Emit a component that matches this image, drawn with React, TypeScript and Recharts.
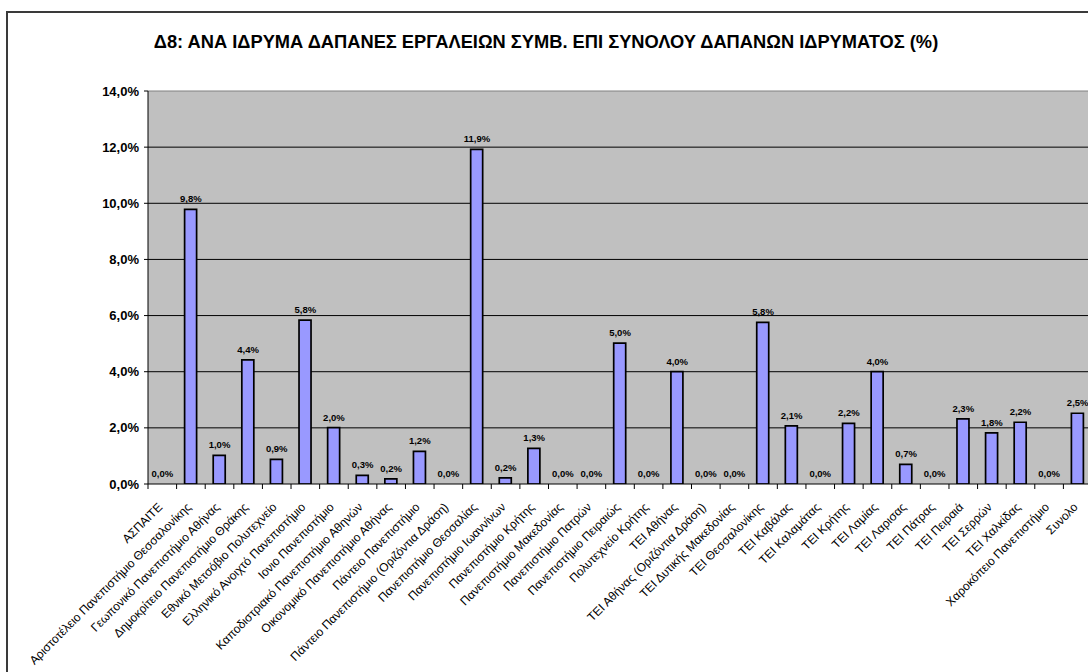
import React from 'react';
import { ComposedChart, Bar, Line, XAxis, YAxis, CartesianGrid, LabelList, ReferenceLine } from 'recharts';

const categories: string[] = [
  'ΑΣΠΑΙΤΕ',
  'Αριστοτέλειο Πανεπιστήμιο Θεσσαλονίκης',
  'Γεωπονικό Πανεπιστήμιο Αθήνας',
  'Δημοκρίτειο Πανεπιστήμιο Θράκης',
  'Εθνικό Μετσόβιο Πολυτεχνείο',
  'Ελληνικό Ανοιχτό Πανεπιστήμιο',
  'Ιονιο Πανεπιστήμιο',
  'Καποδιστριακό Πανεπιστήμιο Αθηνών',
  'Οικονομικό Πανεπιστήμιο Αθήνας',
  'Πάντειο Πανεπιστήμιο',
  'Πάντειο Πανεπιστήμιο (Οριζόντια Δράση)',
  'Πανεπιστήμιο Θεσσαλίας',
  'Πανεπιστήμιο Ιωαννίνων',
  'Πανεπιστήμιο Κρήτης',
  'Πανεπιστήμιο Μακεδονίας',
  'Πανεπιστήμιο Πατρών',
  'Πανεπιστήμιο Πειραιώς',
  'Πολυτεχνείο Κρήτης',
  'ΤΕΙ Αθήνας',
  'ΤΕΙ Αθήνας (Οριζόντια Δράση)',
  'ΤΕΙ Δυτικής Μακεδονίας',
  'ΤΕΙ Θεσσαλονίκης',
  'ΤΕΙ Καβάλας',
  'ΤΕΙ Καλαμάτας',
  'ΤΕΙ Κρήτης',
  'ΤΕΙ Λαμίας',
  'ΤΕΙ Λαρισας',
  'ΤΕΙ Πάτρας',
  'ΤΕΙ Πειραιά',
  'ΤΕΙ Σερρών',
  'ΤΕΙ Χαλκίδας',
  'Χαροκόπειο Πανεπιστήμιο',
  'Συνολο',
];

const values: number[] = [
  0, 9.78, 1.02, 4.42, 0.88, 5.84, 2.01, 0.31, 0.18, 1.16, 0,
  11.92, 0.22, 1.27, 0, 0, 5.02, 0, 4.0, 0, 0, 5.76,
  2.07, 0, 2.16, 4.0, 0.7, 0, 2.32, 1.82, 2.2, 0, 2.52,
];

const yTicks: number[] = [0, 2, 4, 6, 8, 10, 12, 14];
const gridValues: number[] = [2, 4, 6, 8, 10, 12];

const title = 'Δ8: ΑΝΑ ΙΔΡΥΜΑ ΔΑΠΑΝΕΣ ΕΡΓΑΛΕΙΩΝ ΣΥΜΒ. ΕΠΙ ΣΥΝΟΛΟΥ ΔΑΠΑΝΩΝ ΙΔΡΥΜΑΤΟΣ (%)';

const data = categories.map((name, i) => ({ name, value: values[i] }));

const FONT = '"Liberation Sans", Arial, sans-serif';

const pct = (v: number) => Number(v).toFixed(1).replace('.', ',') + '%';

const XTick = (props: any) => {
  const { x, y, payload } = props;
  const off = payload && payload.offset ? payload.offset : 0;
  return (
    <g transform={`translate(${x},${y})`}>
      <line x1={-off} x2={-off} y1={0} y2={5} stroke="#000" strokeWidth={1} />
      <text
        transform="translate(-2,21) rotate(-45)"
        textAnchor="end"
        dominantBaseline="central"
        fontSize={12}
        fontFamily={FONT}
        fill="#000"
      >
        {payload.value}
      </text>
    </g>
  );
};

export default function App() {
  return (
    <div style={{ position: 'absolute', left: 0, top: 0, width: 1088, height: 672, overflow: 'hidden', background: '#fff' }}>
      <div
        style={{
          position: 'absolute',
          left: 6,
          top: 11,
          width: 1200,
          height: 800,
          border: '2px solid #3a3a3a',
          boxSizing: 'border-box',
        }}
      />
      <div
        style={{
          position: 'absolute',
          left: 0,
          width: 1092,
          top: 31,
          textAlign: 'center',
          fontFamily: FONT,
          fontWeight: 'bold',
          fontSize: 18.3,
          lineHeight: '22px',
          color: '#000',
          whiteSpace: 'nowrap',
        }}
      >
        {title}
      </div>
      <div style={{ position: 'absolute', left: 0, top: 0 }}>
        <ComposedChart
          width={1100}
          height={700}
          data={data}
          margin={{ top: 91, right: 8, bottom: 16, left: 0 }}
          barCategoryGap={0}
        >
          <CartesianGrid
            horizontal={true}
            vertical={false}
            horizontalValues={gridValues}
            stroke="#000"
            strokeWidth={1}
            fill="#C0C0C0"
            fillOpacity={1}
          />
          <ReferenceLine y={14} stroke="#808080" strokeWidth={1} />
          <XAxis
            dataKey="name"
            type="category"
            interval={0}
            height={200}
            tick={<XTick />}
            tickLine={false}
            tickSize={0}
            tickMargin={0}
            axisLine={{ stroke: '#000', strokeWidth: 1 }}
          />
          <YAxis
            width={148}
            domain={[0, 14]}
            ticks={yTicks}
            tickFormatter={pct}
            interval={0}
            tickSize={4}
            tickMargin={5}
            tickLine={{ stroke: '#000' }}
            axisLine={{ stroke: '#000', strokeWidth: 1 }}
            tick={{ fontSize: 13, fontWeight: 'bold', fill: '#000', fontFamily: FONT }}
            allowDataOverflow={true}
          />
          <Bar
            dataKey="value"
            fill="#9999FF"
            stroke="#000"
            strokeWidth={1.7}
            barSize={12}
            isAnimationActive={false}
          />
          <Line
            dataKey="value"
            stroke="none"
            dot={false}
            activeDot={false}
            legendType="none"
            isAnimationActive={false}
          >
            <LabelList
              dataKey="value"
              position="top"
              offset={7}
              formatter={pct}
              style={{ fontSize: 9.5, fontWeight: 'bold', fill: '#000', fontFamily: FONT }}
            />
          </Line>
        </ComposedChart>
      </div>
    </div>
  );
}
